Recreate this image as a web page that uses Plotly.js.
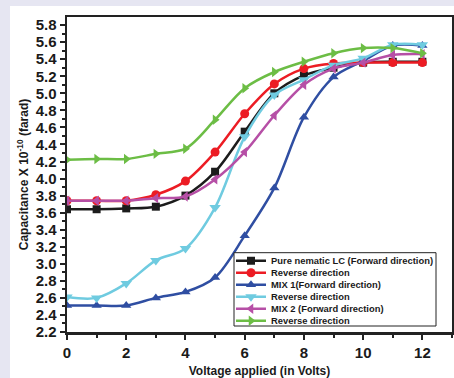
<!DOCTYPE html>
<html><head><meta charset="utf-8">
<script src="https://cdn.plot.ly/plotly-3.0.1.min.js"></script>
<style>html,body{margin:0;padding:0;background:#e6e6f2;}</style>
</head><body><div id="chart" style="width:454px;height:378px;"></div>
<script>
const voltage = [0,1,2,3,4,5,6,7,8,9,10,11,12];
const pureForward = [3.64,3.64,3.65,3.67,3.80,4.08,4.55,5.00,5.21,5.30,5.36,5.37,5.37];
const pureReverse = [3.74,3.74,3.74,3.81,3.97,4.31,4.76,5.11,5.29,5.35,5.36,5.36,5.36];
const mix1Forward = [2.51,2.51,2.51,2.60,2.67,2.84,3.33,3.89,4.72,5.19,5.38,5.56,5.56];
const mix1Reverse = [2.61,2.60,2.77,3.04,3.18,3.66,4.49,4.98,5.16,5.33,5.41,5.57,5.57];
const mix2Forward = [3.74,3.74,3.74,3.77,3.79,3.99,4.31,4.74,5.10,5.29,5.36,5.45,5.46];
const mix2Reverse = [4.22,4.23,4.23,4.29,4.35,4.69,5.06,5.25,5.37,5.47,5.53,5.53,5.47];
const seriesNames = ['Pure nematic LC (Forward direction)','Reverse direction','MIX 1(Forward direction)','Reverse direction','MIX 2 (Forward direction)','Reverse direction'];
const seriesValues = [pureForward, pureReverse, mix1Forward, mix1Reverse, mix2Forward, mix2Reverse];
const seriesColors = ['#1c1c1c','#ec1c24','#2f4ea2','#6fcbe0','#b64fa6','#6cbd45'];
const seriesSymbols = ['square','circle','triangle-up','triangle-down','triangle-left','triangle-right'];
const seriesSizes = [8,9,9,10,9,9];

// layout geometry (pixels)
const W=454,H=378,L=67,R=2,T=17,B=46;
const pw=W-L-R, ph=H-T-B;
const px=x=>(x-L)/pw, py=y=>(H-B-y)/ph;
const rowY=[260.7,272.7,284.7,296.7,308.7,320.7];

const traces = seriesValues.map((v,i)=>({
  x: voltage, y: v, type:'scatter', mode:'lines+markers',
  name: seriesNames[i],
  legend: i===0?'legend':'legend'+(i+1),
  line:{color:seriesColors[i], width:2.5, shape:'spline', smoothing:0.9},
  marker:{color:seriesColors[i], symbol:seriesSymbols[i], size:seriesSizes[i], line:{width:0}}
}));

const font = {family:'Liberation Sans, Arial, sans-serif', color:'#1a1a1a'};
const layout = {
  width:W, height:H, margin:{l:L,r:R,t:T,b:B},
  paper_bgcolor:'#e6e6f2', plot_bgcolor:'#ffffff',
  showlegend:true,
  xaxis:{range:[0,13], dtick:2, tick0:0, showgrid:false, zeroline:false,
    showline:true, linewidth:2.5, linecolor:'#222', mirror:true,
    ticks:'outside', ticklen:5, tickwidth:2, tickcolor:'#222',
    minor:{dtick:1, ticks:'outside', ticklen:3, tickwidth:2, tickcolor:'#222'},
    tickfont:{...font, size:15, weight:'bold'},
    title:{text:'Voltage applied (in Volts)', font:{...font, size:12, weight:'bold'}, standoff:8},
    automargin:false},
  yaxis:{range:[2.2,5.895], dtick:0.2, tick0:2.2, tickformat:'.1f', showgrid:false, zeroline:false,
    showline:true, linewidth:2.5, linecolor:'#222', mirror:true,
    ticks:'outside', ticklen:5, tickwidth:2, tickcolor:'#222',
    minor:{dtick:0.1, ticks:'outside', ticklen:3, tickwidth:2, tickcolor:'#222'},
    tickfont:{...font, size:15, weight:'bold'},
    title:{text:'Capacitance X 10<sup>-10</sup> (farad)', font:{...font, size:12, weight:'bold'}, standoff:5},
    automargin:false},
  shapes:[
    {type:'rect', xref:'paper', yref:'paper', x0:px(10), x1:px(460), y0:py(390), y1:py(6),
     fillcolor:'#ffffff', line:{width:0}, layer:'below'},
    {type:'rect', xref:'paper', yref:'paper', x0:px(234), x1:px(436), y0:py(326), y1:py(252.7),
     fillcolor:'#ffffff', line:{width:1, color:'#222'}, layer:'above'}
  ]
};
rowY.forEach((y,i)=>{
  layout[i===0?'legend':'legend'+(i+1)] = {
    x:px(231), xanchor:'left', y:py(y), yanchor:'middle',
    bgcolor:'rgba(0,0,0,0)', borderwidth:0,
    font:{...font, size:9.4, weight:'bold'}
  };
});
Plotly.newPlot('chart', traces, layout, {displayModeBar:false, staticPlot:true});
</script></body></html>
